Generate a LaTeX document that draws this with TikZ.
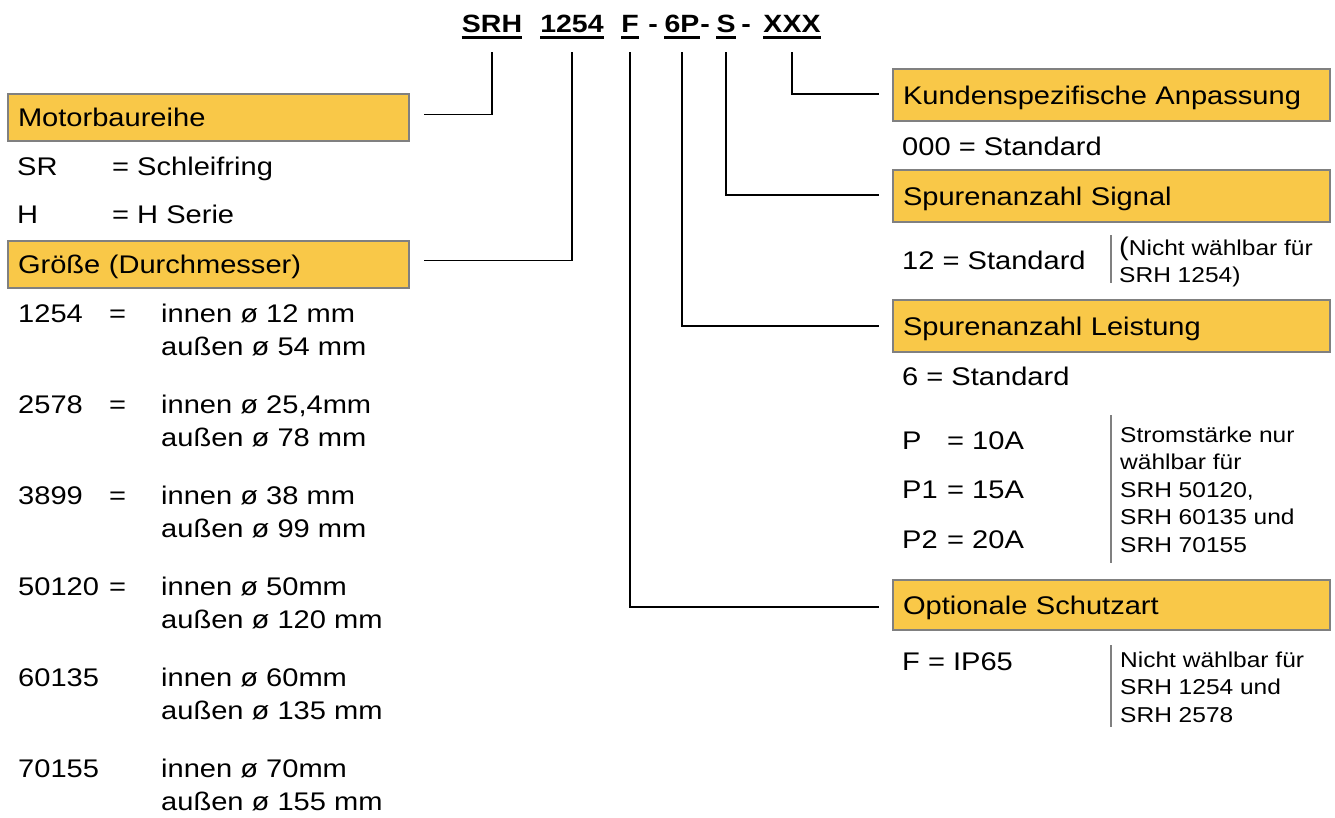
\documentclass[tikz,border=0pt]{standalone}
\usepackage{fontspec}
\setmainfont{Liberation Sans}[FakeStretch=1.14]
\definecolor{boxfill}{RGB}{249,200,72}
\definecolor{boxline}{RGB}{128,128,128}
\newcommand\bodyfs{\fontsize{25.5pt}{30pt}\selectfont}
\newcommand\smallfs{\fontsize{21.5pt}{27.5pt}\selectfont}
\newcommand\headfs{\fontsize{25pt}{30pt}\selectfont\bfseries}
\begin{document}
\begin{tikzpicture}[x=1pt,y=-1pt,
  hbox/.style={draw=boxline, fill=boxfill, line width=2pt, anchor=north west,
    inner xsep=10pt, inner ysep=0pt, align=left, text height=18.5pt, text depth=0pt, font=\bodyfs},
  txt/.style={anchor=base west, inner sep=0pt, font=\bodyfs},
  note/.style={anchor=base west, inner sep=0pt, font=\smallfs},
  head/.style={anchor=base, inner sep=0pt, font=\headfs},
  uline/.style={line width=3pt, black},
  conn/.style={line width=1.5pt, black},
  bar/.style={line width=1.6pt, boxline}]
\useasboundingbox (0,0) rectangle (1335,817);
\fill[white] (0,0) rectangle (1335,817);

% header code
\node[head] (hSRH) at (492,32) {SRH};
\node[head] (h1254) at (572,32) {1254};
\node[head] (hF) at (630,32) {F};
\node[head] (hd1) at (653,32) {-};
\node[head] (h6P) at (682,32) {6P};
\node[head] (hd2) at (705,32) {-};
\node[head] (hS) at (726,32) {S};
\node[head] (hd3) at (746,32) {-};
\node[head] (hX) at (792,32) {XXX};
\foreach \n in {hSRH,h1254,hF,h6P,hS,hX}
  \draw[uline] ([yshift=-5.5pt]\n.base west) -- ([yshift=-5.5pt]\n.base east);

% left boxes
\node[hbox, text width=381pt, minimum height=47pt] (mb) at (7,93) {Motorbaureihe};
\node[hbox, text width=381pt, minimum height=47pt] (gr) at (7,240) {Größe (Durchmesser)};

\node[txt] (sr) at (17,175) {SR};
\node[txt] (sreq) at (112,175) {= Schleifring};
\node[txt] (hh) at (17,223) {H};
\node[txt] (hheq) at (112,223) {= H Serie};

\node[txt] (k1) at (18,322) {1254};
\node[txt] (e1) at (109,322) {=};
\node[txt] (a1) at (161,322) {innen ø 12 mm};
\node[txt] (b1) at (161,355) {außen ø 54 mm};
\node[txt] (k2) at (18,413) {2578};
\node[txt] (e2) at (109,413) {=};
\node[txt] (a2) at (161,413) {innen ø 25,4mm};
\node[txt] (b2) at (161,446) {außen ø 78 mm};
\node[txt] (k3) at (18,504) {3899};
\node[txt] (e3) at (109,504) {=};
\node[txt] (a3) at (161,504) {innen ø 38 mm};
\node[txt] (b3) at (161,537) {außen ø 99 mm};
\node[txt] (k4) at (18,595) {50120};
\node[txt] (e4) at (109,595) {=};
\node[txt] (a4) at (161,595) {innen ø 50mm};
\node[txt] (b4) at (161,628) {außen ø 120 mm};
\node[txt] (k5) at (18,686) {60135};
\node[txt] (a5) at (161,686) {innen ø 60mm};
\node[txt] (b5) at (161,719) {außen ø 135 mm};
\node[txt] (k6) at (18,777) {70155};
\node[txt] (a6) at (161,777) {innen ø 70mm};
\node[txt] (b6) at (161,810) {außen ø 155 mm};

% right boxes
\node[hbox, text width=417pt, minimum height=52pt] (kd) at (892,68) {Kundenspezifische Anpassung};
\node[hbox, text width=417pt, minimum height=52pt] (sg) at (892,169) {Spurenanzahl Signal};
\node[hbox, text width=417pt, minimum height=52pt] (ls) at (892,299) {Spurenanzahl Leistung};
\node[hbox, text width=417pt, minimum height=50pt] (os) at (892,579) {Optionale Schutzart};

\node[txt] (std0) at (902,155) {000 = Standard};
\node[txt] (std12) at (902,269) {12 = Standard};
\node[note] (n1) at (1119,255) {\vtop{\hbox{{\bodyfs(}Nicht wählbar für}\hbox{SRH 1254)}}};
\node[txt] (std6) at (902,385) {6 = Standard};
\node[txt] (p0) at (902,449) {P};
\node[txt] (p0v) at (947,449) {= 10A};
\node[txt] (p1) at (902,498) {P1};
\node[txt] (p1v) at (947,498) {= 15A};
\node[txt] (p2) at (902,548) {P2};
\node[txt] (p2v) at (947,548) {= 20A};
\node[note] (n2) at (1120,442) {\vtop{\hbox{Stromstärke nur}\hbox{wählbar für}\hbox{SRH 50120,}\hbox{SRH 60135 und}\hbox{SRH 70155}}};
\node[txt] (fip) at (902,670) {F = IP65};
\node[note] (n3) at (1120,667) {\vtop{\hbox{Nicht wählbar für}\hbox{SRH 1254 und}\hbox{SRH 2578}}};

\draw[bar] (1111,235) -- (1111,283);
\draw[bar] (1111,415) -- (1111,563);
\draw[bar] (1111,645) -- (1111,727);

% connectors
\draw[conn] ([yshift=-20pt]hSRH.base) |- ([xshift=14pt,yshift=3pt]mb.east);
\draw[conn] ([yshift=-20pt]h1254.base) |- ([xshift=14pt,yshift=4pt]gr.east);
\draw[conn] ([yshift=-20pt]hF.base) |- ([xshift=-13pt,yshift=-2pt]os.west);
\draw[conn] ([yshift=-20pt]h6P.base) |- ([xshift=-13pt]ls.west);
\draw[conn] ([yshift=-20pt]hS.base) |- ([xshift=-13pt,yshift=1pt]sg.west);
\draw[conn] ([yshift=-20pt]hX.base) |- ([xshift=-13pt,yshift=1pt]kd.west);
\end{tikzpicture}
\end{document}
